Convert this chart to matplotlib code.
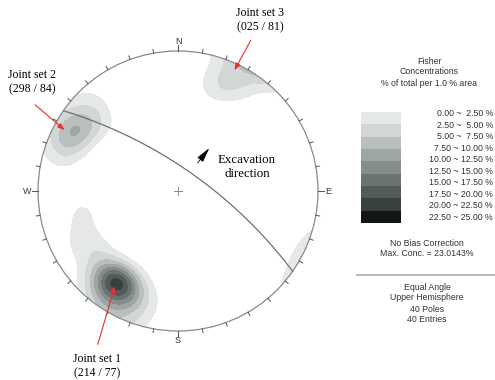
import numpy as np
import matplotlib.pyplot as plt
from matplotlib.patches import Circle, Rectangle

# poles as (dip direction, dip) of the joint planes, upper hemisphere
set1_dipdir = [214, 213, 216, 215, 212, 217, 211, 214, 216, 213, 218, 210,
               222, 206, 224, 207, 201, 203, 196,
               232, 238, 243, 252, 260]
set1_dip = [77, 76, 78, 76, 78, 77, 76, 79, 75, 75, 79, 77,
            80, 80, 75, 73, 76, 83, 81,
            70, 73, 77, 70, 70]
set2_dipdir = [298, 300, 302, 296, 301, 305, 310, 316, 292, 287, 312]
set2_dip = [82, 81, 80, 82, 83, 79, 77, 84, 83, 82, 72]
set3_dipdir = [25, 22, 32, 18, 28]
set3_dip = [84, 79, 87, 76, 82]

plane_dipdir = 35
plane_dip = 72
kappa = 60

levels = [0.0, 2.5, 5.0, 7.5, 10.0, 12.5, 15.0, 17.5, 20.0, 22.5, 25.0]
shades = ['#e6e8e8', '#d2d6d6', '#b9bebe', '#9ea5a5', '#848c8c',
          '#6b7373', '#535a5a', '#3a3f3f', '#141616']
max_conc = 23.0143

labels = ['Joint set 1\n(214 / 77)', 'Joint set 2\n(298 / 84)', 'Joint set 3\n(025 / 81)']

CX, CY, R = 178, 191, 140
W, H = 495, 380


def to_xy(dipdir, dip):
    r = np.tan(np.radians(np.asarray(dip)) / 2)
    a = np.radians(np.asarray(dipdir))
    return r * np.sin(a), r * np.cos(a)


def vec(dipdir, dip):
    # pole direction in the plotted hemisphere, z up
    a = np.radians(np.asarray(dipdir))
    p = np.radians(90 - np.asarray(dip))
    return np.stack([np.cos(p) * np.sin(a), np.cos(p) * np.cos(a), np.sin(p)], -1)


def px(x, y):
    return (x - CX) / R, (CY - y) / R


fig = plt.figure(figsize=(4.95, 3.8), dpi=100)
ax = fig.add_axes([0, 0, 1, 1])
ax.set_xlim(-CX / R, (W - CX) / R)
ax.set_ylim(-(H - CY) / R, CY / R)
ax.set_aspect('equal')
ax.axis('off')

dd = np.array(set1_dipdir + set2_dipdir + set3_dipdir)
dp = np.array(set1_dip + set2_dip + set3_dip)
poles = vec(dd, dp)

# fisher density on a grid in the projection
g = np.linspace(-1, 1, 401)
gx, gy = np.meshgrid(g, g)
rr = np.hypot(gx, gy)
inside = rr <= 1.0
ang = 2 * np.arctan(np.clip(rr, 0, 1))
az = np.arctan2(gx, gy)
u = np.stack([np.sin(ang) * np.sin(az), np.sin(ang) * np.cos(az), np.cos(ang)], -1)
dots = np.abs(u @ poles.T)
f = kappa / (2 * np.pi * (1 - np.exp(-2 * kappa))) * np.exp(kappa * (dots - 1))
dens = 100 * f.sum(-1) / len(poles) * 0.02 * np.pi
dens = np.where(inside, dens, np.nan)

cf = ax.contourf(gx, gy, dens, levels=levels[1:], colors=shades)
cf.set_clip_path(Circle((0, 0), 1.0, transform=ax.transData))

ax.add_patch(Circle((0, 0), 1.0, fill=False, ec='#8a8a8a', lw=0.9))
ax.plot([-0.03, 0.03], [0, 0], color='#888888', lw=0.7)
ax.plot([0, 0], [-0.03, 0.03], color='#888888', lw=0.7)

for t in range(0, 360, 10):
    a = np.radians(t)
    r1 = 1.045 if t % 90 == 0 else 1.027
    ax.plot([np.sin(a), r1 * np.sin(a)], [np.cos(a), r1 * np.cos(a)],
            color='#555555', lw=0.7)
for name, t in [('N', 0), ('E', 90), ('S', 180), ('W', 270)]:
    a = np.radians(t)
    ax.text(1.075 * np.sin(a), 1.07 * np.cos(a), name, ha='center', va='center',
            fontsize=6.5, color='#333333', family='Liberation Sans')

# great circle of the plane
a = np.radians(plane_dipdir)
s = np.array([np.sin(a - np.pi / 2), np.cos(a - np.pi / 2), 0])
dv = np.array([np.cos(np.radians(plane_dip)) * np.sin(a),
               np.cos(np.radians(plane_dip)) * np.cos(a), np.sin(np.radians(plane_dip))])
th = np.linspace(0, np.pi, 200)
v = np.outer(np.cos(th), s) + np.outer(np.sin(th), dv)
ang_v = np.arccos(np.clip(v[:, 2], -1, 1))
az_v = np.arctan2(v[:, 0], v[:, 1])
rv = np.tan(ang_v / 2)
ax.plot(rv * np.sin(az_v), rv * np.cos(az_v), color='#707070', lw=0.9)

# excavation direction arrow
ax.annotate('', xy=px(211, 146), xytext=px(196, 165),
            arrowprops=dict(arrowstyle='-|>,head_length=0.9,head_width=0.22',
                            color='black', lw=0.6))
ax.text(*px(247, 167), 'Excavation\ndirection', ha='center', va='center',
        fontsize=9.3, family='Liberation Serif', linespacing=1.15)

# joint set labels and red arrows
cx1, cy1 = to_xy(214, 77)
cx2, cy2 = to_xy(298, 84)
cx3, cy3 = to_xy(25, 86)
label_pos = [px(97, 366), px(32, 82), px(260, 20)]
tails = [px(97, 347), px(33, 103), px(252, 38)]
heads = [(cx1, cy1), (cx2, cy2), (cx3, cy3)]
for lab, lp, tl, hd in zip(labels, label_pos, tails, heads):
    ax.text(*lp, lab, ha='center', va='center', fontsize=8.5,
            family='Liberation Serif', linespacing=1.25)
    ax.annotate('', xy=hd, xytext=tl,
                arrowprops=dict(arrowstyle='-|>,head_length=0.4,head_width=0.15',
                                color='#e8302a', lw=0.8))


# legend
def ft(x, y, s, **kw):
    fig.text(x / W, 1 - y / H, s, fontsize=6.3, family='Liberation Sans',
             color='#333333', va='center', **kw)


ft(429, 61, 'Fisher', ha='center')
ft(429, 72, 'Concentrations', ha='center')
ft(429, 83, '% of total per 1.0 % area', ha='center')
box_h = (223 - 112) / len(shades)
for i, c in enumerate(shades):
    y0 = 112 + i * box_h
    fig.patches.append(Rectangle((361 / W, 1 - (y0 + box_h) / H), 40 / W, box_h / H,
                                 transform=fig.transFigure, fc=c, ec='none'))
for i in range(len(levels) - 1):
    ft(493, 114 + i * 11.45, '%.2f ~ %5.2f %%' % (levels[i], levels[i + 1]), ha='right')
ft(427, 243, 'No Bias Correction', ha='center')
ft(427, 253, 'Max. Conc. = %.4f%%' % max_conc, ha='center')
fig.add_artist(plt.Line2D([357 / W, 1], [1 - 275 / H] * 2, color='#aaaaaa', lw=1.2))
for i, t in enumerate(['Equal Angle', 'Upper Hemisphere',
                       '%d Poles' % len(poles), '%d Entries' % len(poles)]):
    ft(427, 287 + i * 11, t, ha='center')

fig.savefig('out.png', dpi=100)
